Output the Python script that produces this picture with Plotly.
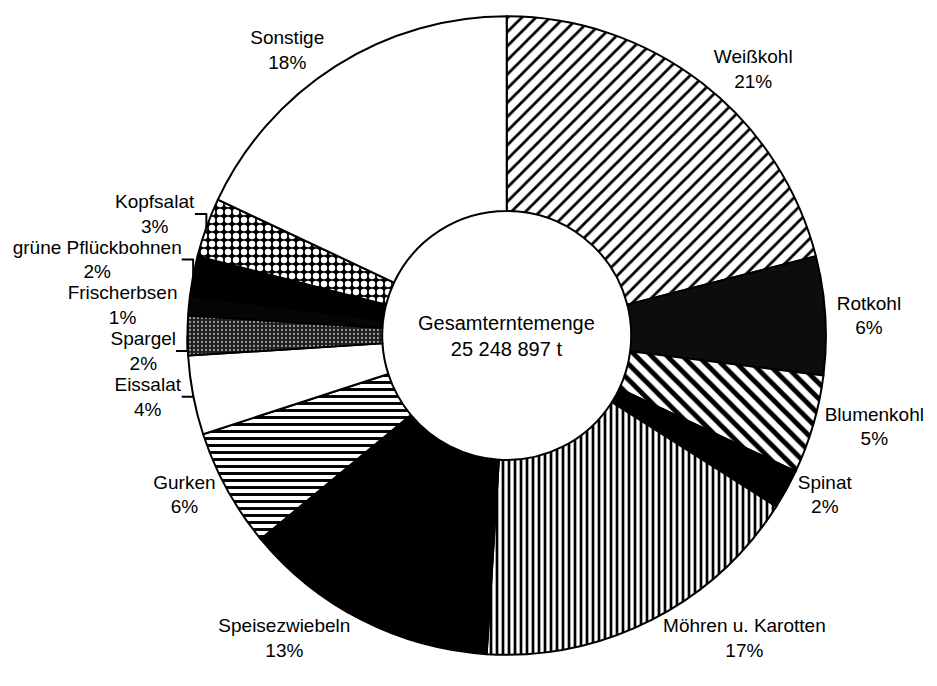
import plotly.graph_objects as go

categories = ["Weißkohl", "Rotkohl", "Blumenkohl", "Spinat", "Möhren u. Karotten",
              "Speisezwiebeln", "Gurken", "Eissalat", "Spargel", "Frischerbsen",
              "grüne Pflückbohnen", "Kopfsalat", "Sonstige"]
shares = [21, 6, 5, 2, 17, 13, 6, 4, 2, 1, 2, 3, 18]
center_title = "Gesamterntemenge"
center_total = "25 248 897 t"

# fill styles (per slice)
bg_colors = ["white", "#0d0d0d", "white", "black", "white", "black", "white",
             "white", "#1e1e1e", "#050505", "black", "black", "white"]
pat_shapes = ["/", "", "\\", "", "|", "", "-", "", ".", "", "", ".", ""]
pat_fg = ["black", "black", "black", "black", "black", "black", "black",
          "black", "#9a9a9a", "black", "black", "white", "black"]
pat_size = [10, 8, 11, 8, 6, 8, 7, 8, 4, 8, 8, 8, 8]
pat_solid = [0.28, 0.3, 0.45, 0.3, 0.45, 0.3, 0.42, 0.3, 0.25, 0.3, 0.3, 0.5, 0.3]

FONT = "Liberation Sans, Arial, sans-serif"

fig = go.Figure(go.Pie(
    labels=categories,
    values=shares,
    sort=False,
    direction="clockwise",
    rotation=0,
    hole=0.39,
    textposition="outside",
    texttemplate="%{label}<br>%{value}%",
    textfont=dict(family=FONT, size=19, color="black"),
    marker=dict(
        colors=bg_colors,
        line=dict(color="black", width=2),
        pattern=dict(shape=pat_shapes, fgcolor=pat_fg, bgcolor=bg_colors,
                     size=pat_size, solidity=pat_solid, fillmode="replace"),
    ),
    domain=dict(x=[0.1862, 0.8794], y=[0.04425, 0.9941]),
    showlegend=False,
))

fig.add_annotation(
    x=0.5328, y=0.5192, xref="paper", yref="paper",
    text=f"{center_title}<br>{center_total}",
    showarrow=False,
    font=dict(family=FONT, size=20, color="black"),
)

fig.update_layout(
    width=929, height=678,
    margin=dict(l=0, r=0, t=0, b=0),
    paper_bgcolor="white",
    plot_bgcolor="white",
)

fig.write_html("out.html")
